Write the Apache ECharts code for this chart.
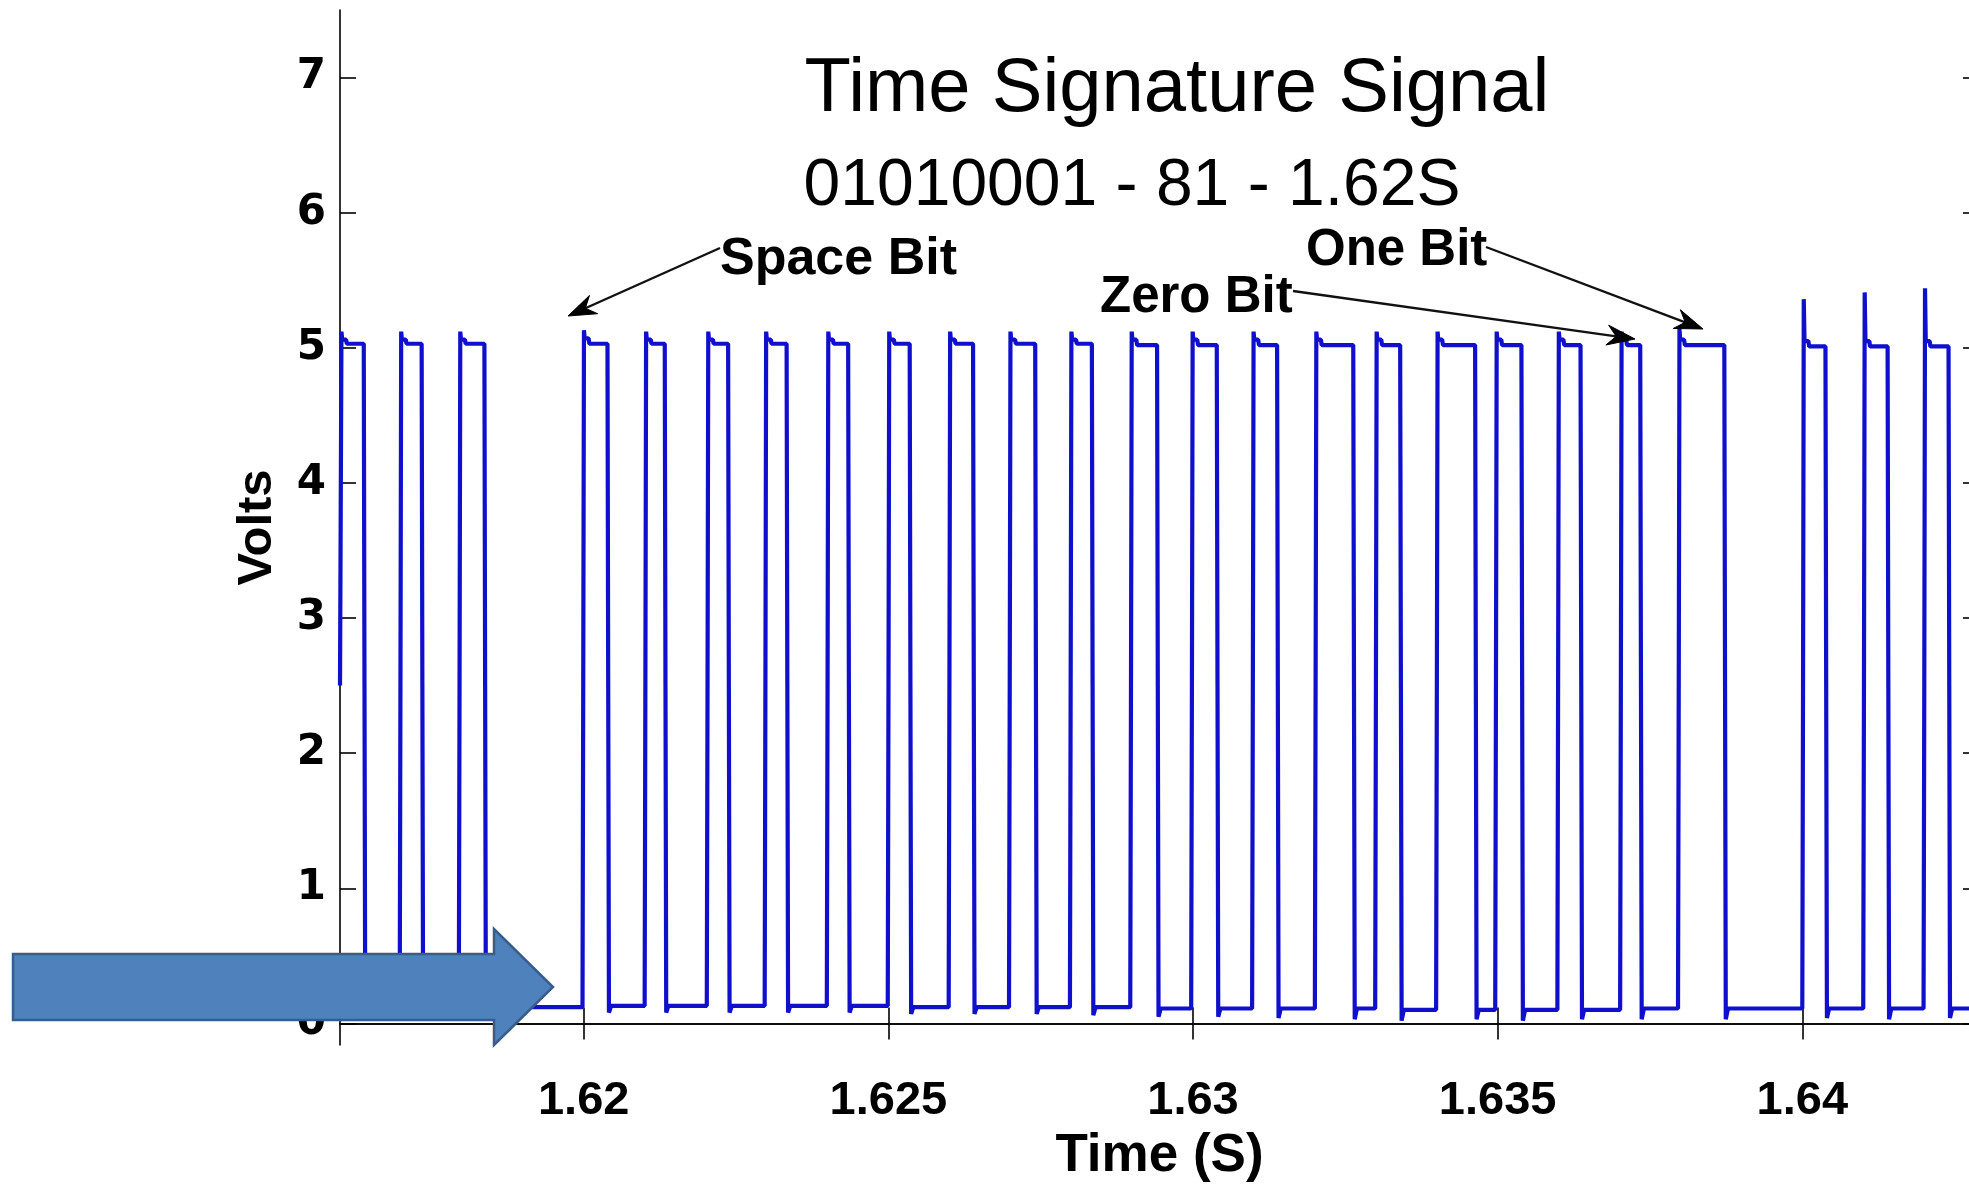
<!DOCTYPE html>
<html><head><meta charset="utf-8">
<script src="https://cdn.jsdelivr.net/npm/echarts@6/dist/echarts.min.js"></script>
<style>html,body{margin:0;padding:0;background:#fff;overflow:hidden;}#c{width:1969px;height:1186px;}</style>
</head><body><div id="c"></div>
<script>
// ---- axis ranges & ticks ----
const xMin = 1.616, xMax = 1.6429;
const yMin = -0.16, yMax = 7.5;
const xTickValues = [1.62, 1.625, 1.63, 1.635, 1.64];
const xTickLabels = ['1.62', '1.625', '1.63', '1.635', '1.64'];
const yTickValues = [0, 1, 2, 3, 4, 5, 6, 7];
const yTickLabels = ['0', '1', '2', '3', '4', '5', '6', '7'];

// ---- pulse edges (seconds) ----
const riseTimes = [1.61600, 1.61698, 1.61795, 1.61998, 1.62100, 1.62202, 1.62297, 1.62399, 1.62499,
  1.62599, 1.62698, 1.62798, 1.62897, 1.62997, 1.63097, 1.63200, 1.63299, 1.63399, 1.63496,
  1.63598, 1.63701, 1.63796, 1.64000, 1.64100, 1.64199];
const fallTimes = [1.61639, 1.61734, 1.61837, 1.62039, 1.62133, 1.62237, 1.62333, 1.62434, 1.62535,
  1.62639, 1.62741, 1.62834, 1.62941, 1.63039, 1.63138, 1.63263, 1.63340, 1.63463, 1.63539,
  1.63636, 1.63734, 1.63872, 1.64038, 1.64140, 1.64240];
// spike at each rising edge, plateau levels, undershoot after each fall (volts)
const peakVolts = [5.12, 5.12, 5.12, 5.13, 5.12, 5.12, 5.12, 5.12, 5.12, 5.12, 5.12, 5.12, 5.12,
  5.12, 5.12, 5.12, 5.12, 5.12, 5.12, 5.12, 5.12, 5.14, 5.36, 5.41, 5.44];
const plateau1Volts = [5.06, 5.06, 5.06, 5.07, 5.06, 5.06, 5.06, 5.06, 5.06, 5.06, 5.06, 5.06, 5.06,
  5.06, 5.06, 5.06, 5.06, 5.06, 5.06, 5.06, 5.06, 5.06, 5.05, 5.05, 5.05];
const plateau2Volts = [5.03, 5.03, 5.03, 5.03, 5.03, 5.03, 5.03, 5.03, 5.03, 5.03, 5.03, 5.03, 5.02,
  5.02, 5.02, 5.02, 5.02, 5.02, 5.02, 5.02, 5.02, 5.02, 5.01, 5.01, 5.01];
const dipVolts = [0.06, 0.06, 0.06, 0.08, 0.08, 0.08, 0.08, 0.08, 0.07, 0.07, 0.07, 0.06, 0.05,
  0.05, 0.04, 0.03, 0.02, 0.03, 0.02, 0.03, 0.03, 0.03, 0.04, 0.03, 0.04];
const lowVolts = [0.12, 0.12, 0.12, 0.13, 0.13, 0.13, 0.13, 0.13, 0.12, 0.12, 0.12, 0.12, 0.11,
  0.11, 0.11, 0.11, 0.10, 0.10, 0.10, 0.10, 0.11, 0.11, 0.11, 0.11, 0.11];
const midVolts = 2.5;

// ---- build the waveform ----
const edge = 0.000012;       // width of the sampled transition
const stepAfter = 0.00010;   // plateau step after the spike
const settleAfter = 0.00006; // undershoot recovery
const wave = [];
for (let i = 0; i < riseTimes.length; i++) {
  const r = riseTimes[i], f = fallTimes[i];
  if (i === 0) {
    wave.push([r, midVolts]);
  } else {
    wave.push([r, lowVolts[i - 1]]);
    wave.push([r + edge, midVolts]);
  }
  wave.push([r + 2 * edge, peakVolts[i]]);
  wave.push([r + 3 * edge, plateau1Volts[i]]);
  wave.push([r + stepAfter, plateau1Volts[i]]);
  wave.push([r + stepAfter + edge, plateau2Volts[i]]);
  wave.push([f, plateau2Volts[i]]);
  wave.push([f + edge, midVolts]);
  wave.push([f + 2 * edge, dipVolts[i]]);
  wave.push([f + settleAfter, lowVolts[i]]);
}
wave.push([xMax, lowVolts[lowVolts.length - 1]]);

const chart = echarts.init(document.getElementById('c'), null, { renderer: 'canvas' });

const axisLineStyle = { show: true, lineStyle: { color: '#000', width: 1.6 } };
const tickLine = { color: '#000', width: 1.6 };
const fmtX = v => {
  for (let i = 0; i < xTickValues.length; i++) if (Math.abs(v - xTickValues[i]) < 1e-9) return xTickLabels[i];
  return '';
};
const fmtY = v => {
  for (let i = 0; i < yTickValues.length; i++) if (Math.abs(v - yTickValues[i]) < 1e-9) return yTickLabels[i];
  return '';
};

// arrow head helper for annotation arrows
function arrowGraphics(x1, y1, x2, y2) {
  const dx = x2 - x1, dy = y2 - y1, len = Math.hypot(dx, dy);
  const ux = dx / len, uy = dy / len, px = -uy, py = ux;
  const L = 28, W = 10, N = 19;
  const bx = x2 - ux * L, by = y2 - uy * L;
  const nx = x2 - ux * N, ny = y2 - uy * N;
  return [
    { type: 'line', shape: { x1: x1, y1: y1, x2: nx, y2: ny }, style: { stroke: '#111', lineWidth: 2.4 }, z: 90 },
    { type: 'polygon', shape: { points: [[x2, y2], [bx + px * W, by + py * W], [nx, ny], [bx - px * W, by - py * W]] },
      style: { fill: '#000', stroke: '#000', lineWidth: 1 }, z: 90 }
  ];
}

const font = "'Liberation Sans', Arial, Helvetica, sans-serif";
const graphics = [
  { type: 'text', x: 1177, y: 90, z: 90, style: { text: 'Time Signature Signal', font: "76px " + font, fill: '#000', align: 'center', verticalAlign: 'middle', textAlign: 'center', textVerticalAlign: 'middle' } },
  { type: 'text', x: 1132, y: 187, z: 90, style: { text: '01010001 - 81 - 1.62S', font: "66px " + font, fill: '#000', align: 'center', verticalAlign: 'middle', textAlign: 'center', textVerticalAlign: 'middle' } },
  { type: 'text', x: 720, y: 260, z: 90, style: { text: 'Space Bit', font: "bold 52px " + font, fill: '#000', align: 'left', verticalAlign: 'middle', textAlign: 'left', textVerticalAlign: 'middle' } },
  { type: 'text', x: 1306, y: 251, z: 90, style: { text: 'One Bit', font: "bold 51px " + font, fill: '#000', align: 'left', verticalAlign: 'middle', textAlign: 'left', textVerticalAlign: 'middle' } },
  { type: 'text', x: 1100, y: 298, z: 90, style: { text: 'Zero Bit', font: "bold 51px " + font, fill: '#000', align: 'left', verticalAlign: 'middle', textAlign: 'left', textVerticalAlign: 'middle' } },
  ...arrowGraphics(720, 248, 568, 316),
  ...arrowGraphics(1293, 291, 1635, 339),
  ...arrowGraphics(1486, 247, 1703, 329),
  { type: 'polygon', z: 100,
    shape: { points: [[13, 954], [494, 954], [494, 929], [553, 987], [494, 1045], [494, 1020], [13, 1020]] },
    style: { fill: '#4f81bd', stroke: '#385d8a', lineWidth: 2.5 } }
];

chart.setOption({
  animation: false,
  backgroundColor: '#fff',
  grid: { left: 340, top: 10, width: 1639, height: 1035, containLabel: false, outerBoundsMode: 'none' },
  xAxis: [
    {
      type: 'value', position: 'bottom', min: xMin, max: xMax,
      axisLine: axisLineStyle,
      axisTick: { show: true, inside: true, length: 16, customValues: xTickValues, lineStyle: tickLine },
      axisLabel: { show: true, customValues: xTickValues, formatter: fmtX, margin: 33,
        fontFamily: font, fontWeight: 'bold', fontSize: 47, color: '#000' },
      splitLine: { show: false },
      name: 'Time (S)', nameLocation: 'middle', nameGap: 85,
      nameTextStyle: { fontFamily: font, fontWeight: 'bold', fontSize: 53, color: '#000' }
    },
    {
      type: 'value', position: 'top', min: xMin, max: xMax,
      axisLine: axisLineStyle,
      axisTick: { show: true, inside: true, length: 16, customValues: xTickValues, lineStyle: tickLine },
      axisLabel: { show: false }, splitLine: { show: false }
    }
  ],
  yAxis: [
    {
      type: 'value', position: 'left', min: yMin, max: yMax,
      axisLine: axisLineStyle,
      axisTick: { show: true, inside: true, length: 16, customValues: yTickValues, lineStyle: tickLine },
      axisLabel: { show: true, customValues: yTickValues, formatter: fmtY, margin: 14,
        fontFamily: "'DejaVu Sans', sans-serif", fontWeight: 'bold', fontSize: 42, color: '#000' },
      splitLine: { show: false },
      name: 'Volts', nameLocation: 'middle', nameGap: 58, nameRotate: 90,
      nameTextStyle: { fontFamily: font, fontWeight: 'bold', fontSize: 49, color: '#000' }
    },
    {
      type: 'value', position: 'right', min: yMin, max: yMax,
      axisLine: axisLineStyle,
      axisTick: { show: true, inside: true, length: 16, customValues: yTickValues, lineStyle: tickLine },
      axisLabel: { show: false }, splitLine: { show: false }
    }
  ],
  series: [{
    type: 'line', xAxisIndex: 0, yAxisIndex: 0, data: wave,
    showSymbol: false, symbol: 'none', smooth: false,
    lineStyle: { color: '#1010cc', width: 4.2 },
    silent: true
  }],
  graphic: graphics
});
</script>
</body></html>
